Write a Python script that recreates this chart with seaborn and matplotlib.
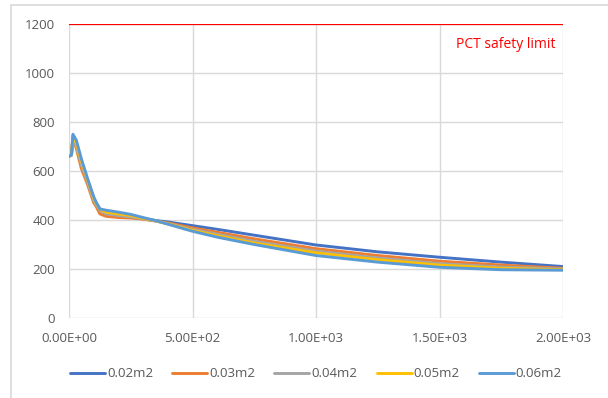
import numpy as np
import pandas as pd
import seaborn as sns
import matplotlib.pyplot as plt
from matplotlib.patches import Rectangle

# time axis (s) and PCT per series
x = [0, 10, 16, 30, 50, 75, 100, 110, 125, 150, 200, 250, 300, 350, 400, 500, 600, 750, 1000, 1250, 1500, 1750, 2000]

pct_002 = [660, 665, 740, 700, 630, 560, 490, 470, 445, 432, 425, 415, 405, 398, 392, 377, 362, 338, 298, 270, 248, 228, 210]
pct_003 = [660, 665, 735, 690, 610, 545, 470, 455, 425, 415, 410, 408, 403, 396, 388, 368, 350, 323, 283, 255, 232, 216, 203]
pct_004 = [660, 665, 740, 700, 625, 555, 480, 462, 440, 425, 418, 412, 405, 396, 385, 362, 342, 313, 273, 245, 222, 208, 200]
pct_005 = [660, 665, 745, 712, 640, 565, 488, 468, 443, 432, 425, 418, 407, 397, 384, 358, 336, 306, 266, 238, 216, 203, 197]
pct_006 = [660, 665, 750, 725, 650, 570, 495, 472, 445, 440, 432, 423, 410, 398, 383, 354, 330, 300, 255, 228, 207, 197, 195]

labels = ["0.02m2", "0.03m2", "0.04m2", "0.05m2", "0.06m2"]
colors = ["#4472C4", "#ED7D31", "#A5A5A5", "#FFC000", "#5B9BD5"]
limit = 1200

frames = []
for lab, vals in zip(labels, [pct_002, pct_003, pct_004, pct_005, pct_006]):
    frames.append(pd.DataFrame({"time": x, "pct": vals, "area": lab}))
df = pd.concat(frames)

sns.set_style("white")
plt.rcParams["font.family"] = ["Open Sans", "DejaVu Sans"]

fig = plt.figure(figsize=(6.08, 3.98), dpi=100)
ax = fig.add_axes([69 / 608, 1 - 318 / 398, (563 - 69) / 608, (318 - 24) / 398])

sns.lineplot(data=df, x="time", y="pct", hue="area", palette=colors,
             linewidth=2.1, ax=ax, sort=False, estimator=None)
ax.axhline(limit, color="#FF0000", linewidth=1.6, zorder=3)
ax.text(1968, 1118, "PCT safety limit", color="#FF0000", fontsize=10,
        ha="right", va="center")

ax.set_xlim(0, 2000)
ax.set_ylim(0, 1200)
ax.set_xticks([0, 500, 1000, 1500, 2000])
ax.set_xticklabels(["0.00E+00", "5.00E+02", "1.00E+03", "1.50E+03", "2.00E+03"])
ax.set_yticks(range(0, 1201, 200))
ax.grid(True, color="#D9D9D9", linewidth=1)
ax.set_axisbelow(True)
for s in ax.spines.values():
    s.set_visible(False)
ax.tick_params(axis="both", length=0, colors="#595959", labelsize=9.5)
ax.tick_params(axis="x", pad=10)
ax.tick_params(axis="y", pad=10)
ax.set_xlabel("")
ax.set_ylabel("")

ax.legend(loc="center", bbox_to_anchor=(0.5, -0.19), ncol=5, frameon=False,
          handlelength=2.65, handletextpad=0.15, columnspacing=1.45, fontsize=9.5,
          labelcolor="#595959")

# chart area border
fig.patches.append(Rectangle((11 / 608, -0.1), 1.2, 1.1 - 5 / 398, transform=fig.transFigure,
                             fill=False, edgecolor="#D9D9D9", linewidth=1.2))

fig.savefig("out.png", dpi=100)
